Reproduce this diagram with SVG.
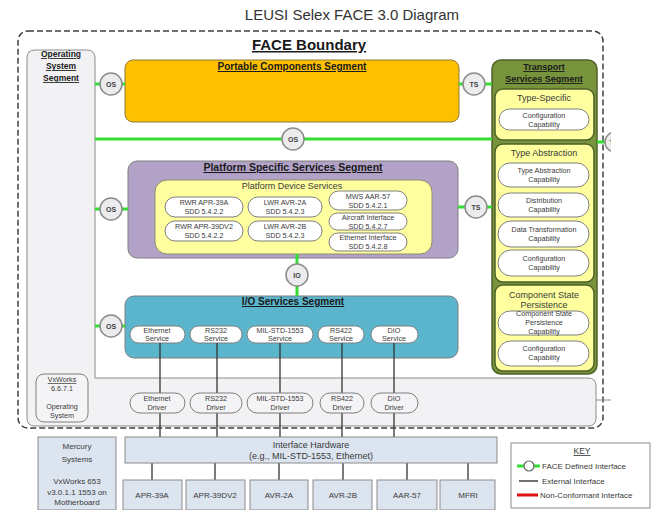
<svg xmlns="http://www.w3.org/2000/svg" width="652" height="510" viewBox="0 0 652 510">
<defs>
<style>
.t{font-family:"Liberation Sans",Arial,sans-serif;fill:#3a3a3a;text-anchor:middle}
.b{font-weight:bold;fill:#1a1a1a;text-decoration:underline}
.pill{fill:#fff;stroke:#7f7f7f;stroke-width:1}
.dpill{fill:#f4f4f6;stroke:#7f7f7f;stroke-width:1}
.ifc{fill:#ececef;stroke:#8c8c8c;stroke-width:1.5}
.ifct{font-family:"Liberation Sans",Arial,sans-serif;font-size:7px;font-weight:bold;fill:#404040;text-anchor:middle}
.g{stroke:#33dd33;stroke-width:3;fill:none}
.ext{stroke:#333;stroke-width:1.3;fill:none}
.yel{fill:#ffff9f;stroke:#4f6228;stroke-width:1.5}
.hw{fill:#dce4ef;stroke:#8c8c8c;stroke-width:1}
.s7{font-size:7.2px}
.s8{font-size:8px}
.s9{font-size:9px}
.wavy{text-decoration-line:underline;text-decoration-style:wavy;text-decoration-color:#e02020}
</style>
<clipPath id="edge"><rect x="0" y="0" width="611" height="510"/></clipPath>
</defs>
<rect width="652" height="510" fill="#fff"/>
<text class="t" x="352" y="20" font-size="15" style="fill:#333">LEUSI Selex FACE 3.0 Diagram</text>

<g id="face-boundary">
<rect x="18" y="31" width="585" height="397" rx="10" fill="none" stroke="#404040" stroke-width="1.5" stroke-dasharray="6 3"/>
<text class="t b" x="309" y="50" font-size="15">FACE Boundary</text>
</g>

<g id="os-segment">
<path d="M35,50 H87 Q95,50 95,58 V378 H588 Q596,378 596,386 V418 Q596,426 588,426 H35 Q27,426 27,418 V58 Q27,50 35,50 Z" fill="#f2f2f4" stroke="#8c8c8c" stroke-width="1"/>
<text class="t b" x="61" y="57" font-size="8.5">Operating</text>
<text class="t b" x="61" y="69" font-size="8.5">System</text>
<text class="t b" x="61" y="81" font-size="8.5">Segment</text>
</g>

<g id="vxworks">
<rect x="36" y="374" width="52" height="48" rx="8" class="dpill"/>
<text class="t s7 wavy" x="62" y="382">VxWorks</text>
<text class="t s7" x="62" y="391">6.6.7.1</text>
<text class="t s7" x="62" y="409">Operating</text>
<text class="t s7" x="62" y="418">System</text>
</g>

<g id="portable-components">
<rect x="125" y="60" width="334" height="62" rx="8" fill="#ffc000" stroke="#8c7a3c" stroke-width="1"/>
<text class="t b" x="292" y="70" font-size="10">Portable Components Segment</text>
</g>

<g id="transport-services">
<rect x="492" y="60" width="105" height="314" rx="9" fill="#77933c" stroke="#4f6228" stroke-width="1.5"/>
<text class="t b" x="544" y="70" font-size="9">Transport</text>
<text class="t b" x="544" y="82" font-size="9">Services Segment</text>
<rect x="495" y="89" width="99" height="51" rx="8" class="yel"/>
<text class="t s9" x="544" y="101">Type-Specific</text>
<rect x="499" y="109" width="90" height="21" rx="10.5" class="pill"/>
<text class="t s7" x="544" y="118">Configuration</text>
<text class="t s7" x="544" y="127">Capability</text>
<rect x="495" y="144" width="99" height="138" rx="8" class="yel"/>
<text class="t s9" x="544" y="156">Type Abstraction</text>
<rect x="498" y="163" width="91" height="24" rx="12" class="pill"/>
<text class="t s7" x="544" y="173">Type Abstraction</text>
<text class="t s7" x="544" y="182">Capability</text>
<rect x="498" y="193" width="91" height="24" rx="12" class="pill"/>
<text class="t s7" x="544" y="203">Distribution</text>
<text class="t s7" x="544" y="212">Capability</text>
<rect x="498" y="221" width="91" height="26" rx="13" class="pill"/>
<text class="t s7" x="544" y="232">Data Transformation</text>
<text class="t s7" x="544" y="241">Capability</text>
<rect x="498" y="250" width="91" height="26" rx="13" class="pill"/>
<text class="t s7" x="544" y="261">Configuration</text>
<text class="t s7" x="544" y="270">Capability</text>
<rect x="495" y="285" width="99" height="86" rx="8" class="yel"/>
<text class="t s9" x="544" y="298">Component State</text>
<text class="t s9" x="544" y="308">Persistence</text>
<rect x="498" y="311" width="91" height="24" rx="12" class="pill"/>
<text class="t s7" x="544" y="316">Component State</text>
<text class="t s7" x="544" y="325">Persistence</text>
<text class="t s7" x="544" y="334">Capability</text>
<rect x="498" y="341" width="91" height="25" rx="12.5" class="pill"/>
<text class="t s7" x="544" y="351">Configuration</text>
<text class="t s7" x="544" y="360">Capability</text>
</g>

<g id="platform-specific">
<rect x="128" y="161" width="330" height="97" rx="9" fill="#b3a2c7" stroke="#7f7f7f" stroke-width="1"/>
<text class="t b" x="293" y="171" font-size="10.5">Platform Specific Services Segment</text>
<rect x="155" y="180" width="277" height="74" rx="12" fill="#ffff9f" stroke="#8c8c6c" stroke-width="1"/>
<text class="t s9" x="292" y="189">Platform Device Services</text>
<rect x="165" y="197" width="78" height="20" rx="10" class="pill"/>
<text class="t s7" x="204" y="205">RWR APR-39A</text>
<text class="t s7" x="204" y="214">SDD 5.4.2.2</text>
<rect x="248" y="197" width="74" height="20" rx="10" class="pill"/>
<text class="t s7" x="285" y="205">LWR AVR-2A</text>
<text class="t s7" x="285" y="214">SDD 5.4.2.3</text>
<rect x="165" y="221" width="78" height="20" rx="10" class="pill"/>
<text class="t s7" x="204" y="229">RWR APR-39DV2</text>
<text class="t s7" x="204" y="238">SDD 5.4.2.2</text>
<rect x="248" y="221" width="74" height="20" rx="10" class="pill"/>
<text class="t s7" x="285" y="229">LWR AVR-2B</text>
<text class="t s7" x="285" y="238">SDD 5.4.2.3</text>
<rect x="329" y="191" width="78" height="19" rx="9.5" class="pill"/>
<text class="t s7" x="368" y="199">MWS AAR-57</text>
<text class="t s7" x="368" y="208">SDD 5.4.2.1</text>
<rect x="329" y="213" width="78" height="17" rx="8.5" class="pill"/>
<text class="t s7" x="368" y="220">Aircraft Interface</text>
<text class="t s7" x="368" y="229">SDD 5.4.2.7</text>
<rect x="329" y="233" width="78" height="18" rx="9" class="pill"/>
<text class="t s7" x="368" y="240">Ethernet Interface</text>
<text class="t s7" x="368" y="249">SDD 5.4.2.8</text>
</g>

<g id="io-services">
<rect x="125" y="296" width="333" height="62" rx="9" fill="#5bb5cc" stroke="#7f7f7f" stroke-width="1"/>
<text class="t b" x="293" y="305" font-size="10">I/O Services Segment</text>
<rect x="130" y="326" width="55" height="17" rx="8.5" class="pill"/>
<text class="t s7" x="157" y="333">Ethernet</text>
<text class="t s7" x="157" y="341">Service</text>
<rect x="190" y="326" width="52" height="17" rx="8.5" class="pill"/>
<text class="t s7" x="216" y="333">RS232</text>
<text class="t s7" x="216" y="341">Service</text>
<rect x="247" y="326" width="66" height="17" rx="8.5" class="pill"/>
<text class="t s7" x="280" y="333">MIL-STD-1553</text>
<text class="t s7" x="280" y="341">Service</text>
<rect x="318" y="326" width="46" height="17" rx="8.5" class="pill"/>
<text class="t s7" x="341" y="333">RS422</text>
<text class="t s7" x="341" y="341">Service</text>
<rect x="371" y="326" width="47" height="17" rx="8.5" class="pill"/>
<text class="t s7" x="394" y="333">DIO</text>
<text class="t s7" x="394" y="341">Service</text>
</g>

<g id="connectors">
<line class="ext" x1="160" y1="343" x2="160" y2="438"/>
<line class="ext" x1="217" y1="343" x2="217" y2="438"/>
<line class="ext" x1="280" y1="343" x2="280" y2="438"/>
<line class="ext" x1="342" y1="343" x2="342" y2="438"/>
<line class="ext" x1="394" y1="343" x2="394" y2="438"/>
<line class="ext" x1="152" y1="463" x2="152" y2="480"/>
<line class="ext" x1="215" y1="463" x2="215" y2="480"/>
<line class="ext" x1="279" y1="463" x2="279" y2="480"/>
<line class="ext" x1="343" y1="463" x2="343" y2="480"/>
<line class="ext" x1="407" y1="463" x2="407" y2="480"/>
<line class="ext" x1="468" y1="463" x2="468" y2="480"/>
<line x1="596" y1="400" x2="611" y2="400" stroke="#8c8c8c" stroke-width="1"/>
<line class="g" x1="95" y1="139" x2="492" y2="139"/>
<line class="g" x1="95" y1="84" x2="125" y2="84"/>
<line class="g" x1="459" y1="84" x2="492" y2="84"/>
<line class="g" x1="95" y1="209" x2="128" y2="209"/>
<line class="g" x1="458" y1="207" x2="492" y2="207"/>
<line class="g" x1="95" y1="326" x2="125" y2="326"/>
<line class="g" x1="297" y1="254" x2="297" y2="296"/>
<line class="g" x1="597" y1="142" x2="606" y2="142"/>
</g>

<g id="drivers">
<rect x="130" y="393" width="55" height="20" rx="10" class="dpill"/>
<text class="t s7" x="157" y="401">Ethernet</text>
<text class="t s7" x="157" y="410">Driver</text>
<rect x="190" y="393" width="52" height="20" rx="10" class="dpill"/>
<text class="t s7" x="216" y="401">RS232</text>
<text class="t s7" x="216" y="410">Driver</text>
<rect x="247" y="393" width="66" height="20" rx="10" class="dpill"/>
<text class="t s7" x="280" y="401">MIL-STD-1553</text>
<text class="t s7" x="280" y="410">Driver</text>
<rect x="320" y="393" width="44" height="20" rx="10" class="dpill"/>
<text class="t s7" x="342" y="401">RS422</text>
<text class="t s7" x="342" y="410">Driver</text>
<rect x="371" y="393" width="47" height="20" rx="10" class="dpill"/>
<text class="t s7" x="394" y="401">DIO</text>
<text class="t s7" x="394" y="410">Driver</text>
</g>

<g id="if-os1"><circle class="ifc" cx="111" cy="84" r="11"/><text class="ifct" x="111" y="86.5">OS</text></g>
<g id="if-ts1"><circle class="ifc" cx="474" cy="84" r="11"/><text class="ifct" x="474" y="86.5">TS</text></g>
<g id="if-os2"><circle class="ifc" cx="293" cy="139" r="11"/><text class="ifct" x="293" y="141.5">OS</text></g>
<g id="if-os3"><circle class="ifc" cx="111" cy="209" r="11"/><text class="ifct" x="111" y="211.5">OS</text></g>
<g id="if-ts2"><circle class="ifc" cx="476" cy="207" r="11"/><text class="ifct" x="476" y="209.5">TS</text></g>
<g id="if-io"><circle class="ifc" cx="297" cy="275" r="11"/><text class="ifct" x="297" y="277.5">IO</text></g>
<g id="if-os4"><circle class="ifc" cx="111" cy="326" r="11"/><text class="ifct" x="111" y="328.5">OS</text></g>
<g id="if-ts3" clip-path="url(#edge)"><circle class="ifc" cx="615" cy="142" r="10"/><text class="ifct" x="614" y="144.5">TS</text></g>

<g id="mercury">
<rect x="38" y="437" width="78" height="73" class="hw"/>
<text class="t s8" x="77" y="449">Mercury</text>
<text class="t s8" x="77" y="462">Systems</text>
<text class="t s8" x="77" y="484">VxWorks 653</text>
<text class="t s8" x="77" y="495">v3.0.1.1 1553 on</text>
<text class="t s8" x="77" y="505">Motherboard</text>
</g>

<g id="interface-hardware">
<rect x="125" y="437" width="372" height="26" class="hw"/>
<text class="t s9" x="311" y="448">Interface Hardware</text>
<text class="t s9" x="311" y="459">(e.g., MIL-STD-1553, Ethernet)</text>
</g>

<g id="devices">
<rect x="123" y="480" width="59" height="30" class="hw"/><text class="t s8" x="152" y="498">APR-39A</text>
<rect x="186" y="480" width="59" height="30" class="hw"/><text class="t s8" x="215" y="498">APR-39DV2</text>
<rect x="250" y="480" width="58" height="30" class="hw"/><text class="t s8" x="279" y="498">AVR-2A</text>
<rect x="313" y="480" width="59" height="30" class="hw"/><text class="t s8" x="343" y="498">AVR-2B</text>
<rect x="377" y="480" width="60" height="30" class="hw"/><text class="t s8" x="407" y="498">AAR-57</text>
<rect x="440" y="480" width="55" height="30" class="hw"/><text class="t s8" x="468" y="498">MFRI</text>
</g>

<g id="key">
<rect x="511" y="443" width="139" height="65" fill="#fff" stroke="#8c8c8c" stroke-width="1"/>
<text class="t" x="582" y="454" font-size="8.5" style="text-decoration:underline">KEY</text>
<line class="g" x1="517" y1="466" x2="540" y2="466"/>
<circle cx="529" cy="466" r="5" fill="#fff" stroke="#666" stroke-width="1.2"/>
<text class="t" x="542" y="469" font-size="8" style="text-anchor:start">FACE Defined Interface</text>
<line x1="519" y1="481" x2="538" y2="481" stroke="#222" stroke-width="1.3"/>
<text class="t" x="542" y="484" font-size="8" style="text-anchor:start">External Interface</text>
<line x1="517" y1="495" x2="538" y2="495" stroke="#e01010" stroke-width="3"/>
<text class="t" x="540" y="498" font-size="8" style="text-anchor:start">Non-Conformant Interface</text>
</g>
</svg>
